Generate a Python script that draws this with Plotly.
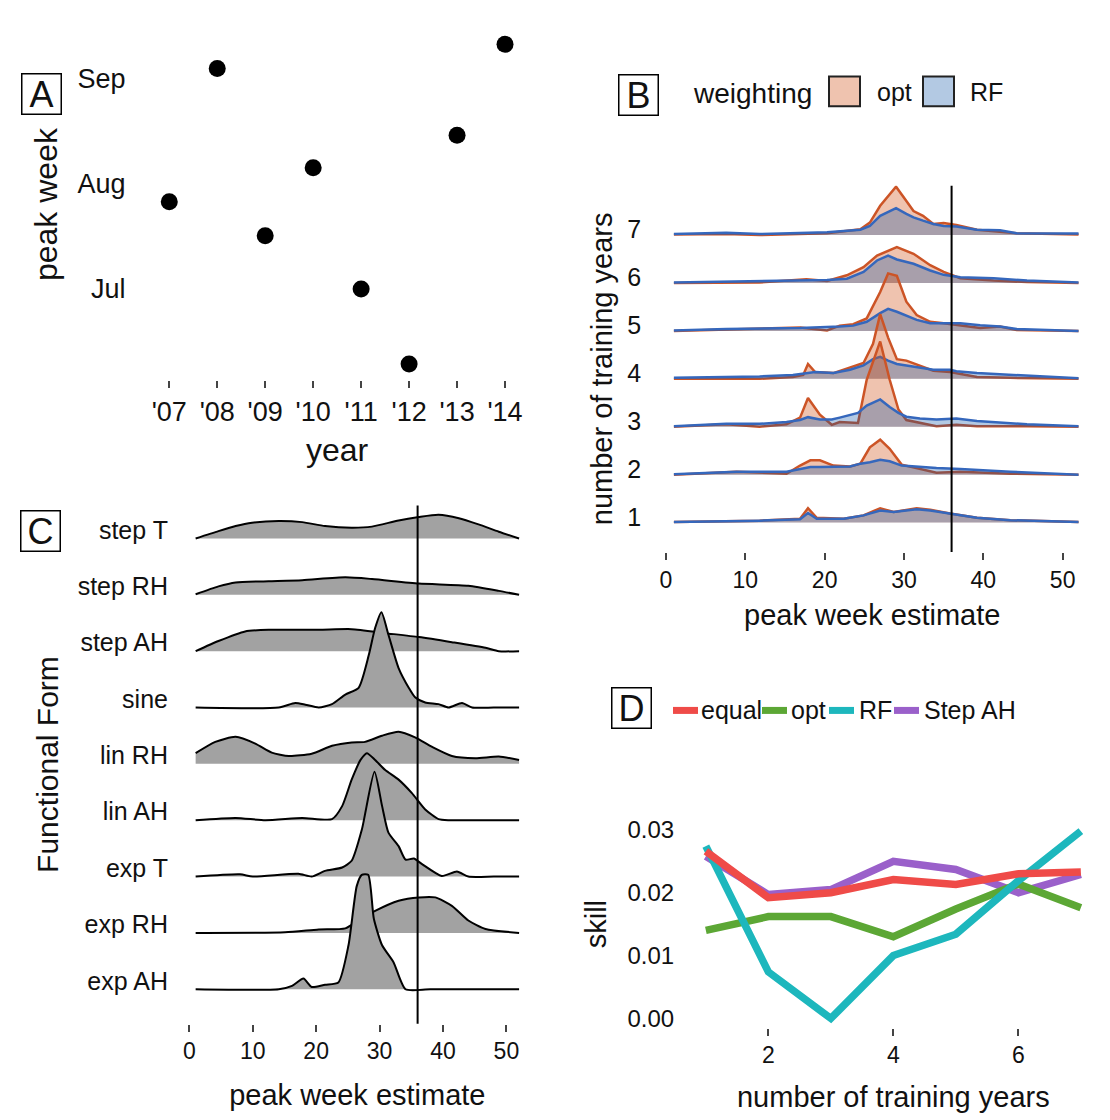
import plotly.graph_objects as go

W, H = 1110, 1120
FONT = "Liberation Sans, Arial, Helvetica, sans-serif"
INK = "#111111"

# ---------------- Panel A: observed peak week per year ----------------
A_YEARS = [2007, 2008, 2009, 2010, 2011, 2012, 2013, 2014]
A_YEAR_LABELS = ["'07", "'08", "'09", "'10", "'11", "'12", "'13", "'14"]
A_PEAK_WEEK = [29.6, 35.1, 28.2, 31.0, 26.0, 22.9, 32.35, 36.1]
A_MONTH_WEEKS = [26.0, 30.35, 34.7]
A_MONTH_LABELS = ["Jul", "Aug", "Sep"]

TARGET_WEEK = 36

# ---------------- Panel B: ridges by number of training years ----------------
B_ROWS = [7, 6, 5, 4, 3, 2, 1]
B_WEEKS_7 = [1, 7.6, 11.8, 20.3, 24.5, 25.7, 27, 29, 30.3, 31.2, 32.4, 33.7, 35, 36.6, 39.2, 42.1, 44.2, 52]
B_OPT_7 = [0.01, 0.02, 0.0, 0.04, 0.12, 0.26, 0.61, 1.01, 0.71, 0.50, 0.40, 0.23, 0.25, 0.21, 0.11, 0.07, 0.04, 0.01]
B_RF_7 = [0.02, 0.05, 0.02, 0.06, 0.11, 0.19, 0.40, 0.56, 0.44, 0.37, 0.30, 0.23, 0.19, 0.18, 0.11, 0.10, 0.04, 0.03]

B_WEEKS_6 = [1, 11.8, 17.7, 20.3, 22.8, 24.9, 26.6, 28, 29.1, 31.2, 33.3, 35, 37.1, 41.3, 45.5, 52]
B_OPT_6 = [0, 0.01, 0.08, 0.04, 0.16, 0.33, 0.57, 0.68, 0.75, 0.61, 0.37, 0.23, 0.10, 0.05, 0.02, 0]
B_RF_6 = [0.01, 0.04, 0.06, 0.06, 0.09, 0.23, 0.47, 0.57, 0.49, 0.40, 0.26, 0.17, 0.12, 0.10, 0.05, 0.01]

B_WEEKS_5 = [1, 7.6, 16.9, 20.3, 21.9, 23.6, 25.3, 27, 28, 29.1, 30.3, 31.6, 33.3, 35, 37.1, 39.6, 42.1, 44.2, 52]
B_OPT_5 = [0, 0.03, 0.07, 0.01, 0.11, 0.14, 0.26, 0.81, 1.20, 1.15, 0.61, 0.33, 0.19, 0.16, 0.12, 0.06, 0.09, 0.02, 0]
B_RF_5 = [0.01, 0.04, 0.06, 0.07, 0.09, 0.11, 0.19, 0.37, 0.46, 0.40, 0.32, 0.23, 0.16, 0.16, 0.16, 0.12, 0.09, 0.04, 0]

B_WEEKS_4 = [1, 11.8, 16, 17.3, 17.9, 18.8, 21.1, 23.2, 24.9, 26.1, 27, 28, 29.1, 30.3, 32, 33.7, 35.8, 36.6, 39.2, 43.4, 52]
B_OPT_4 = [0, 0, 0.04, 0.08, 0.31, 0.14, 0.12, 0.23, 0.33, 0.73, 1.35, 0.86, 0.41, 0.38, 0.28, 0.17, 0.14, 0.12, 0.04, 0.02, 0]
B_RF_4 = [0.02, 0.05, 0.08, 0.10, 0.12, 0.14, 0.12, 0.19, 0.28, 0.41, 0.46, 0.38, 0.31, 0.28, 0.23, 0.19, 0.19, 0.16, 0.12, 0.08, 0.01]

B_WEEKS_3 = [1, 7.6, 11.8, 15.2, 16.9, 17.9, 19.4, 20.9, 21.9, 24.2, 25.3, 27, 28.2, 29.3, 30.3, 32, 34.1, 36.6, 39.2, 45.5, 52]
B_OPT_3 = [0, 0.05, 0, 0.05, 0.19, 0.60, 0.25, 0.04, 0.10, 0.08, 0.98, 1.78, 0.98, 0.36, 0.14, 0.08, 0.01, 0.04, 0.01, 0.01, 0]
B_RF_3 = [0.01, 0.06, 0.06, 0.10, 0.14, 0.20, 0.15, 0.15, 0.19, 0.29, 0.44, 0.57, 0.41, 0.29, 0.21, 0.17, 0.15, 0.17, 0.12, 0.05, 0.01]

B_WEEKS_2 = [1, 8.9, 15.2, 16.9, 18.2, 19.4, 21.1, 23.2, 24.5, 25.7, 27, 28.2, 29.7, 32, 34.1, 37.1, 43.4, 52]
B_OPT_2 = [0, 0.06, 0.02, 0.19, 0.30, 0.30, 0.19, 0.17, 0.23, 0.57, 0.73, 0.54, 0.21, 0.12, 0.04, 0.06, 0.02, 0]
B_RF_2 = [0.01, 0.06, 0.06, 0.12, 0.16, 0.16, 0.16, 0.17, 0.23, 0.26, 0.31, 0.28, 0.19, 0.16, 0.14, 0.12, 0.06, 0]

B_WEEKS_1 = [1, 11.8, 16.9, 17.9, 19, 22.4, 24.9, 27, 28.7, 31.6, 33.3, 35.8, 39.2, 43.4, 52]
B_OPT_1 = [0.01, 0.04, 0.08, 0.30, 0.10, 0.08, 0.15, 0.30, 0.22, 0.30, 0.27, 0.19, 0.10, 0.05, 0.01]
B_RF_1 = [0.01, 0.04, 0.07, 0.20, 0.08, 0.08, 0.15, 0.25, 0.22, 0.28, 0.25, 0.19, 0.10, 0.05, 0.01]

# ---------------- Panel C: ridges by functional form ----------------
C_FORMS = ["step T", "step RH", "step AH", "sine", "lin RH", "lin AH", "exp T", "exp RH", "exp AH"]
C_WEEKS_STEP_T = [1, 4.6, 7.3, 9.9, 14.1, 17.8, 21.4, 25.6, 28.8, 33, 36.2, 39.3, 42.5, 45.6, 48.8, 52]
C_DENS_STEP_T = [0, 0.13, 0.22, 0.28, 0.31, 0.29, 0.22, 0.19, 0.21, 0.32, 0.38, 0.42, 0.36, 0.25, 0.12, 0]
C_WEEKS_STEP_RH = [1, 4.6, 7.3, 12.5, 17.8, 24.6, 28.8, 36.2, 44, 48.8, 52]
C_DENS_STEP_RH = [0.01, 0.15, 0.22, 0.24, 0.26, 0.31, 0.28, 0.20, 0.16, 0.07, 0]
C_WEEKS_STEP_AH = [1, 4.6, 8.8, 12.5, 20.4, 25.6, 30.9, 36.2, 41.4, 46.7, 48.8, 52]
C_DENS_STEP_AH = [0, 0.18, 0.35, 0.38, 0.38, 0.39, 0.32, 0.25, 0.16, 0.06, 0, 0]
C_WEEKS_SINE = [1, 14.1, 16.7, 18.3, 20.4, 22.5, 24.6, 26.7, 28.3, 29.3, 30.3, 31.4, 33, 34.6, 35.6, 37.2, 39.3, 40.9, 43, 44.6, 48, 52]
C_DENS_SINE = [0, 0, 0.08, 0.05, 0, 0.06, 0.23, 0.35, 0.93, 1.41, 1.69, 1.29, 0.70, 0.35, 0.18, 0.09, 0.06, 0, 0.08, 0, 0, 0]
C_WEEKS_LIN_RH = [1, 4.1, 7.3, 10.4, 13, 15.7, 19.3, 22.5, 25.6, 27.7, 30.4, 33, 35.6, 38.3, 41.4, 45.1, 48.8, 52]
C_DENS_LIN_RH = [0.19, 0.39, 0.48, 0.36, 0.20, 0.14, 0.18, 0.32, 0.38, 0.39, 0.50, 0.57, 0.47, 0.30, 0.14, 0.10, 0.13, 0.07]
C_WEEKS_LIN_AH = [1, 7.3, 12, 17.8, 22.5, 24.1, 25.6, 27, 28, 29.3, 30.9, 33, 35.1, 37.2, 39.3, 41, 45, 52]
C_DENS_LIN_AH = [0, 0.04, 0, 0.04, 0.02, 0.25, 0.72, 1.07, 1.19, 1.07, 0.89, 0.72, 0.48, 0.19, 0.02, 0, 0, 0]
C_WEEKS_EXP_T = [1, 8, 10, 17.2, 19.3, 21.4, 24.1, 25.6, 27.2, 29.2, 30.4, 31.4, 33, 34.1, 35.4, 36.7, 39.8, 42.2, 44, 48, 52]
C_DENS_EXP_T = [0, 0.04, 0, 0.05, 0, 0.10, 0.16, 0.28, 0.83, 1.86, 1.25, 0.78, 0.54, 0.30, 0.32, 0.22, 0.01, 0.09, 0, 0, 0]
C_WEEKS_EXP_RH = [1, 15.1, 20.4, 24.6, 26.7, 29.3, 33, 36.2, 38.8, 41.4, 44, 46.7, 52]
C_DENS_EXP_RH = [0, 0.01, 0.06, 0.08, 0.22, 0.39, 0.57, 0.63, 0.63, 0.48, 0.22, 0.07, 0]
C_WEEKS_EXP_AH = [1, 14.1, 16.2, 18, 19.3, 21.4, 23.5, 25.1, 26.4, 27.2, 28.2, 29.1, 30.4, 32.2, 34.1, 38, 52]
C_DENS_EXP_AH = [0, 0, 0.06, 0.19, 0.04, 0.08, 0.12, 0.78, 1.83, 2.03, 2.03, 1.25, 0.78, 0.48, 0, 0, 0]

# ---------------- Panel D: skill vs number of training years ----------------
D_TRAIN_YEARS = [1, 2, 3, 4, 5, 6, 7]
D_EQUAL = [0.0266, 0.0192, 0.0200, 0.0221, 0.0213, 0.0230, 0.0233]
D_OPT = [0.0140, 0.0162, 0.0162, 0.0130, 0.0174, 0.0214, 0.0176]
D_RF = [0.0274, 0.0074, 0.0000, 0.0100, 0.0134, 0.0219, 0.0298]
D_STEP_AH = [0.0258, 0.0197, 0.0205, 0.0250, 0.0237, 0.0200, 0.0229]

# ---------------- styling ----------------
OPT_FILL = "rgba(209,84,26,0.35)"
RF_FILL = "rgba(2,75,162,0.30)"
OPT_LINE = "#CC5426"
RF_LINE = "#3567BC"
C_FILL = "#A2A2A2"
D_COLORS = {"equal": "#EF4B48", "opt": "#5CA735", "RF": "#1DB7BD", "Step AH": "#9A60CA"}

B_LABEL_LIFT = 0.12
C_LABEL_LIFT = 0.15


def fx(p):
    return p / W


def fy(p):
    return 1 - p / H


fig = go.Figure()

# Panel A
fig.add_trace(go.Scatter(x=A_YEARS, y=A_PEAK_WEEK, mode="markers",
                         marker=dict(size=17, color="black"),
                         xaxis="x", yaxis="y", hoverinfo="skip", showlegend=False))


def ridge(x, dens, base, xa, ya, fillcolor, linecolor, lw, shape="linear", smoothing=None):
    fig.add_trace(go.Scatter(x=[x[0], x[-1]], y=[base, base], mode="lines",
                             line=dict(width=0, color="rgba(0,0,0,0)"),
                             xaxis=xa, yaxis=ya, hoverinfo="skip", showlegend=False))
    line = dict(color=linecolor, width=lw, shape=shape)
    if smoothing is not None:
        line["smoothing"] = smoothing
    fig.add_trace(go.Scatter(x=x, y=[base + d for d in dens], mode="lines",
                             fill="tonexty", fillcolor=fillcolor, line=line,
                             xaxis=xa, yaxis=ya, hoverinfo="skip", showlegend=False))


# Panel B (top row first so that lower rows overlap upper ones)
B_DATA = {
    7: (B_WEEKS_7, B_OPT_7, B_RF_7),
    6: (B_WEEKS_6, B_OPT_6, B_RF_6),
    5: (B_WEEKS_5, B_OPT_5, B_RF_5),
    4: (B_WEEKS_4, B_OPT_4, B_RF_4),
    3: (B_WEEKS_3, B_OPT_3, B_RF_3),
    2: (B_WEEKS_2, B_OPT_2, B_RF_2),
    1: (B_WEEKS_1, B_OPT_1, B_RF_1),
}
for r in B_ROWS:
    wk, opt, rf = B_DATA[r]
    ridge(wk, opt, r, "x2", "y2", OPT_FILL, OPT_LINE, 2.5)
    ridge(wk, rf, r, "x2", "y2", RF_FILL, RF_LINE, 2.5)

# Panel C
C_DATA = [
    (C_WEEKS_STEP_T, C_DENS_STEP_T), (C_WEEKS_STEP_RH, C_DENS_STEP_RH),
    (C_WEEKS_STEP_AH, C_DENS_STEP_AH), (C_WEEKS_SINE, C_DENS_SINE),
    (C_WEEKS_LIN_RH, C_DENS_LIN_RH), (C_WEEKS_LIN_AH, C_DENS_LIN_AH),
    (C_WEEKS_EXP_T, C_DENS_EXP_T), (C_WEEKS_EXP_RH, C_DENS_EXP_RH),
    (C_WEEKS_EXP_AH, C_DENS_EXP_AH),
]
n_forms = len(C_FORMS)
C_POS = [n_forms - i for i in range(n_forms)]
for (wk, dens), pos in zip(C_DATA, C_POS):
    ridge(wk, dens, pos, "x3", "y3", C_FILL, "black", 2, shape="spline", smoothing=0.6)

# Panel D
for name, vals in [("Step AH", D_STEP_AH), ("opt", D_OPT), ("RF", D_RF), ("equal", D_EQUAL)]:
    fig.add_trace(go.Scatter(x=D_TRAIN_YEARS, y=vals, mode="lines", name=name,
                             line=dict(color=D_COLORS[name], width=7.5),
                             xaxis="x4", yaxis="y4", hoverinfo="skip", showlegend=False))

noax = dict(showgrid=False, zeroline=False, showline=False)
tickstyle = dict(ticks="outside", ticklen=7, tickwidth=2, tickcolor="#444")

fig.update_layout(
    width=W, height=H, margin=dict(l=0, r=0, t=0, b=0),
    paper_bgcolor="white", plot_bgcolor="white",
    font=dict(family=FONT, color=INK), showlegend=False,
    xaxis=dict(domain=[fx(140.5), fx(533.8)], range=[2006.4, 2014.6], anchor="y",
               tickvals=A_YEARS, ticktext=A_YEAR_LABELS, tickfont=dict(size=27),
               title=dict(text="year", font=dict(size=32), standoff=12), **tickstyle, **noax),
    yaxis=dict(domain=[fy(379), fy(25)], range=[22.23, 36.74], anchor="x",
               tickvals=A_MONTH_WEEKS, ticktext=A_MONTH_LABELS, tickfont=dict(size=27),
               ticks="", ticklabelstandoff=14,
               title=dict(text="peak week", font=dict(size=32), standoff=10), **noax),
    xaxis2=dict(domain=[fx(650.1), fx(1094.4)], range=[-2, 54], anchor="y2",
                tickvals=[0, 10, 20, 30, 40, 50], tickfont=dict(size=23),
                title=dict(text="peak week estimate", font=dict(size=29), standoff=13),
                **tickstyle, **noax),
    yaxis2=dict(domain=[fy(552), fy(183)], range=[0.385, 8.03], anchor="x2",
                tickvals=[r + B_LABEL_LIFT for r in B_ROWS], ticktext=[str(r) for r in B_ROWS],
                tickfont=dict(size=25), ticks="", ticklabelstandoff=8,
                title=dict(text="number of training years", font=dict(size=29), standoff=6),
                **noax),
    xaxis3=dict(domain=[fx(182.96), fx(531.77)], range=[-1, 54], anchor="y3",
                tickvals=[0, 10, 20, 30, 40, 50], tickfont=dict(size=23),
                title=dict(text="peak week estimate", font=dict(size=29), standoff=21),
                **tickstyle, **noax),
    yaxis3=dict(domain=[fy(1027), fy(505)], range=[0.389, 9.587], anchor="x3",
                tickvals=[p + C_LABEL_LIFT for p in C_POS], ticktext=C_FORMS,
                tickfont=dict(size=25), ticks="", ticklabelstandoff=14,
                title=dict(text="Functional Form", font=dict(size=30), standoff=10),
                **noax),
    xaxis4=dict(domain=[fx(687.1), fx(1099.6)], range=[0.7, 7.3], anchor="y4",
                tickvals=[2, 4, 6], tickfont=dict(size=23),
                title=dict(text="number of training years", font=dict(size=29), standoff=19),
                **tickstyle, **noax),
    yaxis4=dict(domain=[fy(1031.2), fy(822.3)], range=[-0.0015, 0.0315], anchor="x4",
                tickvals=[0, 0.01, 0.02, 0.03], tickformat=".2f", tickfont=dict(size=24),
                ticks="", ticklabelstandoff=12,
                title=dict(text="skill", font=dict(size=29), standoff=12), **noax),
)

# reference week lines
fig.add_shape(type="line", xref="x2", yref="y2 domain", x0=TARGET_WEEK, x1=TARGET_WEEK,
              y0=0, y1=1, line=dict(color="black", width=2))
fig.add_shape(type="line", xref="x3", yref="y3 domain", x0=TARGET_WEEK, x1=TARGET_WEEK,
              y0=0, y1=1, line=dict(color="black", width=2))

# panel letters
for letter, cx, cy in [("A", 41, 91), ("B", 638, 91.5), ("C", 40.5, 530.5), ("D", 631, 709)]:
    fig.add_annotation(text=letter, x=fx(cx), y=fy(cy), xref="paper", yref="paper",
                       showarrow=False, xanchor="center", yanchor="middle",
                       font=dict(size=36, color=INK), bordercolor="black", borderwidth=1.5,
                       borderpad=0, width=38, height=39, bgcolor="white")

# Panel B legend
fig.add_annotation(text="weighting", x=fx(691), y=fy(90), xref="paper", yref="paper",
                   showarrow=False, xanchor="left", yanchor="middle", font=dict(size=28))
for label, fill, x0, tx in [("opt", "rgb(239,195,175)", 829, 875), ("RF", "rgb(179,201,227)", 923, 968)]:
    fig.add_shape(type="rect", xref="paper", yref="paper", x0=fx(x0), x1=fx(x0 + 31),
                  y0=fy(103), y1=fy(73), fillcolor=fill, line=dict(color="#222", width=2))
    fig.add_annotation(text=label, x=fx(tx), y=fy(89), xref="paper", yref="paper",
                       showarrow=False, xanchor="left", yanchor="middle", font=dict(size=25))

# Panel D legend
for label, x0, tx in [("equal", 673, 699), ("opt", 762, 789), ("RF", 829, 857), ("Step AH", 894, 922)]:
    fig.add_shape(type="line", xref="paper", yref="paper", x0=fx(x0), x1=fx(x0 + 25),
                  y0=fy(711.5), y1=fy(711.5), line=dict(color=D_COLORS[label], width=7))
    fig.add_annotation(text=label, x=fx(tx), y=fy(711), xref="paper", yref="paper",
                       showarrow=False, xanchor="left", yanchor="middle", font=dict(size=25))

fig.write_html("out.html", config={"displayModeBar": False},
               post_script="document.body.style.margin='0';document.body.style.padding='0';")
